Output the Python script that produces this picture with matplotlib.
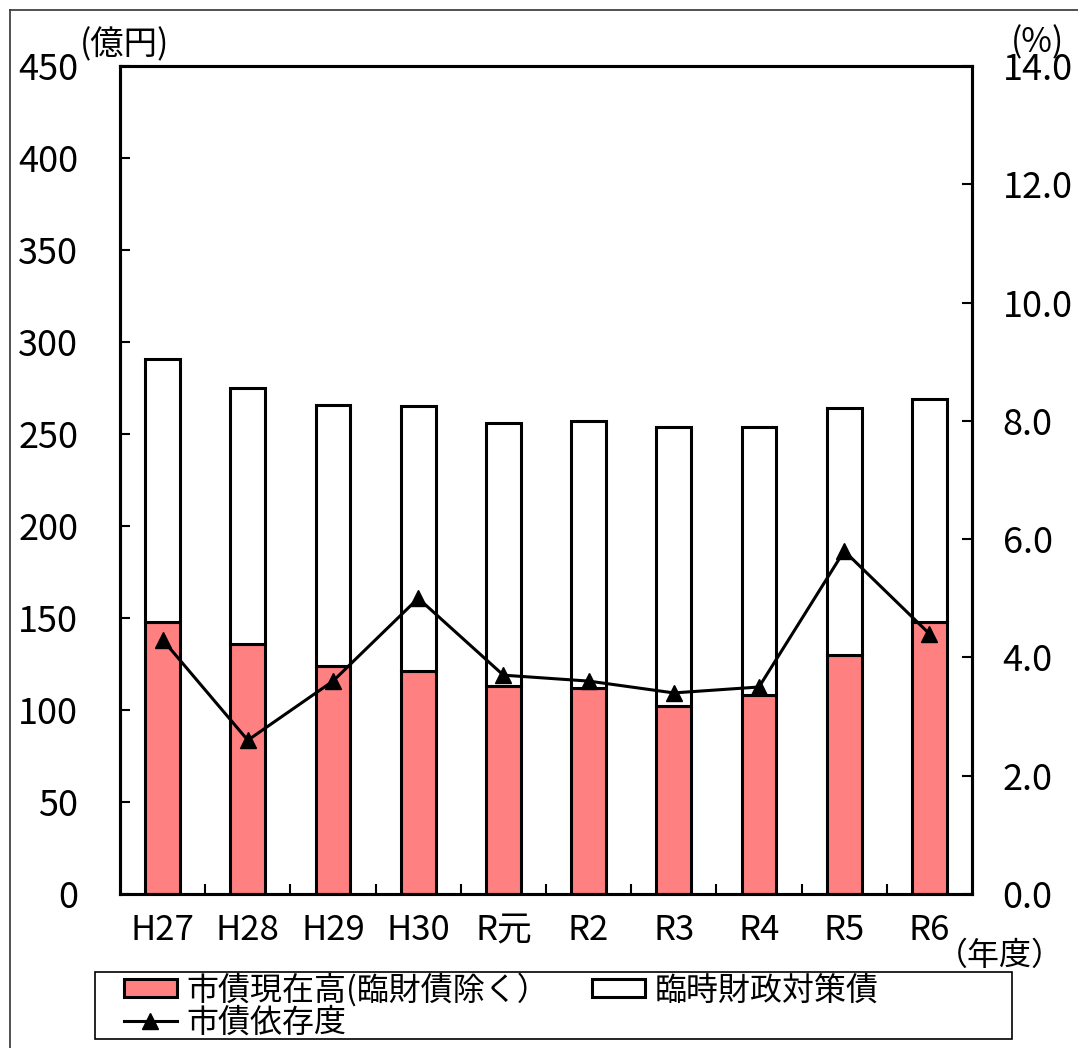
import numpy as np
import matplotlib.pyplot as plt
from matplotlib.lines import Line2D
from matplotlib.patches import Patch, Rectangle

plt.rcParams['font.family'] = ['Noto Sans CJK JP', 'DejaVu Sans']

# 年度別 市債現在高・臨時財政対策債・市債依存度
years = ['H27', 'H28', 'H29', 'H30', 'R元', 'R2', 'R3', 'R4', 'R5', 'R6']
shisai = [148, 136, 124, 121, 113, 112, 102, 108, 130, 148]          # 市債現在高(臨財債除く)
rinzai = [143, 139, 142, 144, 143, 145, 152, 146, 134, 121]          # 臨時財政対策債
izondo = [4.3, 2.6, 3.6, 5.0, 3.7, 3.6, 3.4, 3.5, 5.8, 4.4]          # 市債依存度(%)

W, H = 1078, 1048
fig = plt.figure(figsize=(W / 100, H / 100), dpi=100)

# plot area in pixels: x 120-972, y 66-894
ax = fig.add_axes([120 / W, 1 - 894 / H, 852 / W, 828 / H])
ax2 = ax.twinx()

x = np.arange(len(years))
bw = 0.41
ax.bar(x, shisai, bw, color='#FF8080', edgecolor='black', linewidth=2.2, zorder=2)
ax.bar(x, rinzai, bw, bottom=shisai, color='white', edgecolor='black', linewidth=2.2, zorder=2)

ax2.plot(x, izondo, color='black', lw=2.2, marker='^', ms=12, zorder=3)

ax.set_xlim(-0.5, len(years) - 0.5)
ax.set_ylim(0, 450)
ax.set_yticks(np.arange(0, 451, 50))
ax2.set_ylim(0, 14)
ax2.set_yticks(np.arange(0, 14.1, 2))
ax2.set_yticklabels([f'{v:.1f}' for v in np.arange(0, 14.1, 2)])

ax.set_xticks(x)
ax.set_xticklabels(years)
ax.set_xticks(np.arange(0.5, len(years) - 1, 1), minor=True)
ax.tick_params(axis='x', which='major', length=0, pad=14, labelsize=25)
ax.tick_params(axis='x', which='minor', direction='in', length=7, width=1.5)
ax.tick_params(axis='y', direction='in', length=7, width=1.5, pad=30, labelsize=26)
ax2.tick_params(axis='y', direction='in', length=7, width=1.5, pad=22, labelsize=26)

for a in (ax, ax2):
    for s in a.spines.values():
        s.set_linewidth(2.2)

fig.text(80 / W, 1 - 62 / H, '(億円)', fontsize=24, ha='left', va='bottom')
fig.text(1064 / W, 1 - 60 / H, '(%)', fontsize=24, ha='right', va='bottom')
fig.text(1064 / W, 1 - 972 / H, '（年度）', fontsize=23, ha='right', va='bottom')

# outer frame (left and top only)
fig.add_artist(Line2D([10 / W, 10 / W], [0, 1 - 10 / H], transform=fig.transFigure,
                      color='#333333', lw=1.2))
fig.add_artist(Line2D([10 / W, 1], [1 - 10 / H, 1 - 10 / H], transform=fig.transFigure,
                      color='#333333', lw=1.2))

# legend
fig.add_artist(Rectangle((95 / W, 1 - 1039 / H), 917 / W, 67 / H, transform=fig.transFigure,
                         fill=False, edgecolor='black', lw=1.2))
handles = [
    Patch(facecolor='#FF8080', edgecolor='black', linewidth=2.2),
    Line2D([], [], color='black', lw=2.2, marker='^', ms=12),
    Patch(facecolor='white', edgecolor='black', linewidth=2.2),
]
labels = ['市債現在高(臨財債除く）', '市債依存度', '臨時財政対策債']
fig.legend(handles, labels, ncol=2, loc='upper left', bbox_to_anchor=(108 / W, 1 - 957 / H),
           frameon=False, fontsize=23, borderpad=0, handlelength=1.66, handletextpad=0.3,
           columnspacing=1.35, labelspacing=0.0, handleheight=0.5)

fig.savefig('out.png', dpi=100)
